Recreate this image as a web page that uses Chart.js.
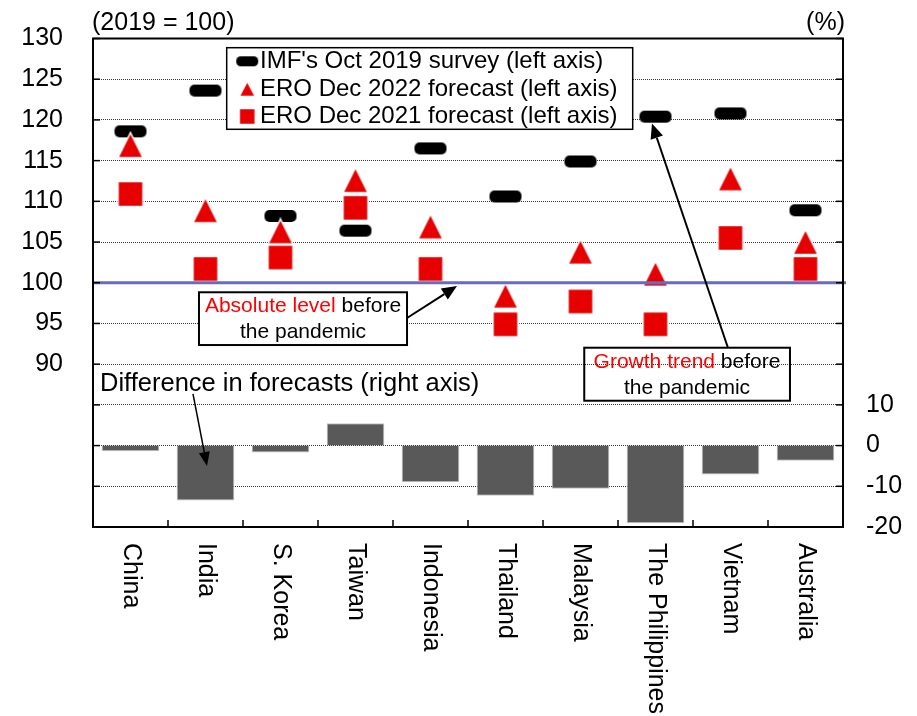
<!DOCTYPE html>
<html><head><meta charset="utf-8">
<script src="https://cdn.jsdelivr.net/npm/chart.js@4.4.0/dist/chart.umd.min.js"></script>
<style>html,body{margin:0;padding:0;background:#fff;}#wrap{width:917px;height:716px;}</style>
</head><body><div id="wrap"><canvas id="c" width="917" height="716"></canvas></div>
<script>
const categories = ['China','India','S. Korea','Taiwan','Indonesia','Thailand','Malaysia','The Philippines','Vietnam','Australia'];
const imfOct2019 = [118.6,123.6,108.2,106.4,116.5,110.6,114.9,120.4,120.8,108.9];
const eroDec2022 = [116.9,108.9,106.3,112.6,106.9,98.4,103.8,101.1,112.8,105.0];
const eroDec2021 = [110.9,101.7,103.1,109.2,101.7,94.9,97.7,94.9,105.5,101.7];
const forecastDiff = [-1.4,-13.5,-1.7,5.5,-9.0,-12.3,-10.6,-19.1,-7.1,-3.7];
const leftTickLabels = [90,95,100,105,110,115,120,125,130];
const rightTickLabels = [-20,-10,0,10];
const baseline = 100;

const FONT = '"Liberation Sans", Arial, sans-serif';
const RED = '#E60000';
const TOP = 38.5, BOTTOM_H = 189, LEFT_W = 93, RIGHT_W = 74;

function rr(g,x,y,w,h,r){g.beginPath();g.moveTo(x+r,y);g.lineTo(x+w-r,y);g.arcTo(x+w,y,x+w,y+r,r);g.lineTo(x+w,y+h-r);g.arcTo(x+w,y+h,x+w-r,y+h,r);g.lineTo(x+r,y+h);g.arcTo(x,y+h,x,y+h-r,r);g.lineTo(x,y+r);g.arcTo(x,y,x+r,y,r);g.closePath();}
function imfIcon(w,h,r){const c=document.createElement('canvas');c.width=w+2;c.height=h+2;const g=c.getContext('2d');rr(g,1,1,w,h,r);g.fillStyle='#000';g.fill();return c;}
function triIcon(w,h){const c=document.createElement('canvas');c.width=w+3;c.height=h+3;const g=c.getContext('2d');g.beginPath();g.moveTo(1.5+w/2,1.5);g.lineTo(1.5+w,1.5+h);g.lineTo(1.5,1.5+h);g.closePath();g.fillStyle=RED;g.fill();g.strokeStyle='#fff';g.lineWidth=1.5;g.stroke();return c;}
function sqIcon(s){const c=document.createElement('canvas');c.width=s+3;c.height=s+3;const g=c.getContext('2d');g.fillStyle=RED;g.fillRect(1.5,1.5,s,s);g.strokeStyle='#fff';g.lineWidth=1.5;g.strokeRect(1.5,1.5,s,s);return c;}

const imfMark = imfIcon(32,12,5), triMark = triIcon(25,25), sqMark = sqIcon(25);
const imfLeg = imfIcon(22,10,4.5), triLeg = triIcon(16,15), sqLeg = sqIcon(16);

function line(ctx,x1,y1,x2,y2){ctx.beginPath();ctx.moveTo(x1,y1);ctx.lineTo(x2,y2);ctx.stroke();}
function arrow(ctx,x1,y1,x2,y2,lw,hl,hw){
  const ang=Math.atan2(y2-y1,x2-x1);
  const bx=x2-Math.cos(ang)*hl, by=y2-Math.sin(ang)*hl;
  ctx.strokeStyle='#000';ctx.lineWidth=lw;line(ctx,x1,y1,bx,by);
  ctx.beginPath();ctx.moveTo(x2,y2);
  ctx.lineTo(bx+Math.sin(ang)*hw,by-Math.cos(ang)*hw);
  ctx.lineTo(bx-Math.sin(ang)*hw,by+Math.cos(ang)*hw);
  ctx.closePath();ctx.fillStyle='#000';ctx.fill();
}
function drawPieces(ctx,pieces,cx,cy){
  const w=pieces.reduce((s,p)=>s+ctx.measureText(p[0]).width,0);
  let x=cx-w/2;
  pieces.forEach(p=>{ctx.fillStyle=p[1];ctx.fillText(p[0],x,cy);x+=ctx.measureText(p[0]).width;});
}

// annotation positions in data units: x = category index, y = left-axis value
const notes = [
  {box:[0.913,98.83,3.687,92.35], fill:'#fff', cx:2.3,
   lines:[[['Absolute level','#FF0000'],[' before','#000']],[['the pandemic','#000']]], ly:[97.06,93.87],
   arrow:[3.687,95.67,4.353,99.6]},
  {box:[6.05,92.02,8.793,85.51], fill:null, cx:7.42,
   lines:[[['Growth trend','#FF0000'],[' before','#000']],[['the pandemic','#000']]], ly:[90.3,87.05],
   arrow:[7.967,91.99,6.953,119.56]}
];

const overlay = {
  id:'overlay',
  afterLayout(chart){
    // pin the plot area
    const a=chart.chartArea;
    a.top=TOP; a.bottom=chart.height-BOTTOM_H; a.left=LEFT_W; a.right=chart.width-RIGHT_W;
    a.width=a.right-a.left; a.height=a.bottom-a.top;
    ['x','y','y2'].forEach(id=>{
      const s=chart.scales[id];
      if(id==='x'){s.left=a.left;s.right=a.right;s.width=a.width;s.top=a.bottom;s.bottom=chart.height;}
      else{s.top=a.top;s.bottom=a.bottom;s.height=a.height;
        if(id==='y'){s.left=0;s.right=a.left;}else{s.left=a.right;s.right=chart.width;}
        s.width=s.right-s.left;}
      s.configure();
    });
  },
  afterDatasetsDraw(chart){
    const {ctx, chartArea:a, scales:{x,y,y2}} = chart;
    const px=i=>a.left+(i+0.5)*(a.right-a.left)/categories.length;
    ctx.save();
    const yb=y.getPixelForValue(baseline);
    ctx.strokeStyle='#6A6ABF';ctx.lineWidth=3;line(ctx,a.left,yb,a.right+3,yb);
    ctx.strokeStyle='#000';ctx.lineWidth=2;
    ctx.strokeRect(a.left,a.top,a.right-a.left,a.bottom-a.top);
    ctx.lineWidth=1.5;
    y.ticks.forEach(t=>{const p=y.getPixelForValue(t.value);line(ctx,a.left,p,a.left+7,p);});
    y2.ticks.forEach(t=>{const p=y2.getPixelForValue(t.value);line(ctx,a.right-7,p,a.right,p);});
    for(let i=1;i<categories.length;i++){const p=(x.getPixelForValue(i-1)+x.getPixelForValue(i))/2;line(ctx,p,a.bottom-7,p,a.bottom);}
    notes.forEach(n=>{
      const x1=px(n.box[0]),y1=y.getPixelForValue(n.box[1]),x2=px(n.box[2]),y2p=y.getPixelForValue(n.box[3]);
      if(n.fill){ctx.fillStyle=n.fill;ctx.fillRect(x1,y1,x2-x1,y2p-y1);}
      ctx.strokeStyle='#000';ctx.lineWidth=2;ctx.strokeRect(x1,y1,x2-x1,y2p-y1);
      ctx.font='21px '+FONT;ctx.textBaseline='middle';ctx.textAlign='left';
      n.lines.forEach((ln,k)=>drawPieces(ctx,ln,px(n.cx),y.getPixelForValue(n.ly[k])));
      arrow(ctx,px(n.arrow[0]),y.getPixelForValue(n.arrow[1]),px(n.arrow[2]),y.getPixelForValue(n.arrow[3]),2,15,6.5);
    });
    ctx.font='25.5px '+FONT;ctx.fillStyle='#000';ctx.textAlign='left';ctx.textBaseline='middle';
    ctx.fillText('Difference in forecasts (right axis)',a.left+7,y.getPixelForValue(87.56));
    arrow(ctx,px(0.833),y.getPixelForValue(86.34),px(1.02),y.getPixelForValue(77.49),1.5,14,5.5);
    const lx=a.left+133.7, ly=a.top+9.2, lw=406, lh=81.6;
    ctx.fillStyle='#fff';ctx.fillRect(lx,ly,lw,lh);
    ctx.strokeStyle='#000';ctx.lineWidth=1.5;ctx.strokeRect(lx,ly,lw,lh);
    const legItems=[[chart.data.datasets[2].label,imfLeg],[chart.data.datasets[1].label,triLeg],[chart.data.datasets[0].label,sqLeg]];
    ctx.font='24px '+FONT;ctx.textBaseline='middle';ctx.textAlign='left';
    legItems.forEach((it,k)=>{
      const cy=ly+13.6+k*27.6;
      ctx.drawImage(it[1],lx+20.5-it[1].width/2,cy-it[1].height/2);
      ctx.fillStyle='#000';ctx.fillText(it[0],lx+33.3,cy);
    });
    ctx.restore();
  },
  afterDraw(chart){
    const {ctx, chartArea:a, scales:{x}} = chart;
    ctx.save();
    ctx.font='25px '+FONT;ctx.fillStyle='#000';
    categories.forEach((c,i)=>{
      ctx.save();ctx.translate(x.getPixelForValue(i),a.bottom+16);ctx.rotate(Math.PI/2);
      ctx.textAlign='left';ctx.textBaseline='middle';ctx.fillText(c,0,0);ctx.restore();
    });
    ctx.textBaseline='middle';
    ctx.textAlign='left';ctx.fillText('(2019 = 100)',a.left-1,a.top-15);
    ctx.textAlign='right';ctx.fillText('(%)',a.right+2,a.top-15);
    ctx.restore();
  }
};

new Chart(document.getElementById('c'),{
  type:'bar',
  data:{
    labels:categories,
    datasets:[
      {type:'line',label:'ERO Dec 2021 forecast (left axis)',data:eroDec2021,yAxisID:'y',showLine:false,pointStyle:sqMark,pointRadius:12,pointHoverRadius:12},
      {type:'line',label:'ERO Dec 2022 forecast (left axis)',data:eroDec2022,yAxisID:'y',showLine:false,pointStyle:triMark,pointRadius:12,pointHoverRadius:12},
      {type:'line',label:"IMF's Oct 2019 survey (left axis)",data:imfOct2019,yAxisID:'y',showLine:false,pointStyle:imfMark,pointRadius:12,pointHoverRadius:12},
      {type:'bar',label:'Difference in forecasts (right axis)',data:forecastDiff,yAxisID:'y2',backgroundColor:'#595959',borderColor:'#C4C4C4',borderWidth:1,barPercentage:0.77,categoryPercentage:1}
    ]
  },
  options:{
    responsive:false,animation:false,devicePixelRatio:1,events:[],
    layout:{padding:{top:38,left:0,right:0,bottom:0}},
    plugins:{legend:{display:false},tooltip:{enabled:false}},
    scales:{
      x:{type:'category',offset:true,grid:{display:false},border:{display:false},ticks:{display:false},
         afterFit(s){s.height=BOTTOM_H;}},
      y:{position:'left',min:70,max:130,
         ticks:{stepSize:5,padding:30,color:'#000',font:{family:FONT,size:25},
                callback:v=>leftTickLabels.includes(v)?String(v):''},
         grid:{drawTicks:false,lineWidth:1,color:c=>(c.tick&&(c.tick.value===130||c.tick.value===70))?'rgba(0,0,0,0)':'#333'},
         border:{display:false,dash:[1,1]},
         afterFit(s){s.width=LEFT_W;}},
      y2:{position:'right',min:-20,max:100,
         ticks:{stepSize:10,padding:23,color:'#000',font:{family:FONT,size:25},
                callback:v=>rightTickLabels.includes(v)?String(v):''},
         grid:{display:false,drawTicks:false},border:{display:false},
         afterFit(s){s.width=RIGHT_W;}}
    }
  },
  plugins:[overlay]
});
</script></body></html>
